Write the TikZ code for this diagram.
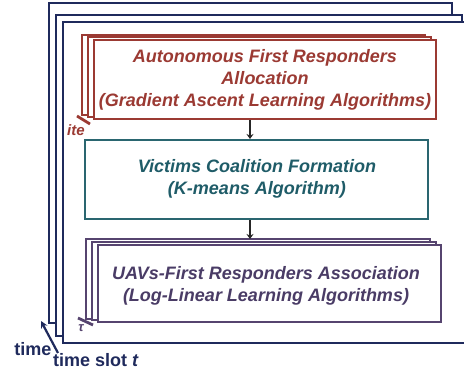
\documentclass[tikz,border=0pt]{standalone}
\usepackage{fontspec}
\setmainfont{Liberation Sans}
\usetikzlibrary{arrows.meta}
\definecolor{navy}{HTML}{1F2A5C}
\definecolor{redc}{HTML}{9B3A33}
\definecolor{tealc}{HTML}{2A6670}
\definecolor{tealt}{HTML}{1F5C68}
\definecolor{purc}{HTML}{56446F}
\definecolor{purt}{HTML}{4A3C66}
\tikzset{
  frame/.style={draw=navy, line width=2.4pt, fill=white},
  redbox/.style={draw=redc, line width=2pt, fill=white},
  tealbox/.style={draw=tealc, line width=2pt, fill=white},
  purbox/.style={draw=purc, line width=2pt, fill=white},
  boxtext/.style={font=\fontsize{18}{22}\selectfont\bfseries\itshape, align=center, inner sep=0pt},
  flow/.style={draw=black!85, line width=2pt, -{Stealth[length=5pt,width=7pt]}},
  tick/.style={line width=2.8pt, line cap=butt},
  timelbl/.style={text=navy, font=\fontsize{18}{18}\selectfont\bfseries, inner sep=0pt}
}
\begin{document}
\begin{tikzpicture}[x=1pt,y=-1pt]
\useasboundingbox (0,0) rectangle (464,374);
% time frames
\draw[frame] (49,3) rectangle (452,323);
\draw[frame] (56,15) rectangle (462,336);
\draw[frame] (63,22) rectangle (480,343);
% red stack
\draw[redbox] (82,35) rectangle (425,115);
\draw[redbox] (88,37) rectangle (431,117);
\node[redbox, minimum width=342pt, minimum height=79pt, inner sep=0pt] (alloc) at (265,79.5) {};
\node[boxtext, text=redc] (alloctext) at (265,79.5) {Autonomous First Responders\\Allocation\\(Gradient Ascent Learning Algorithms)};
\draw[redc, tick] (77,116) -- (90,124);
\node[text=redc, font=\fontsize{15}{15}\selectfont\bfseries\itshape, inner sep=0pt] (ite) at (76,130) {ite};
% teal box
\node[tealbox, minimum width=343pt, minimum height=79pt, inner sep=0pt] (coal) at (256.5,179.5) {};
\node[boxtext, text=tealt] (coaltext) at (257,179) {Victims Coalition Formation\\(K-means Algorithm)};
% purple stack
\draw[purbox] (86,239) rectangle (430,319);
\draw[purbox] (92,242) rectangle (436,320);
\node[purbox, minimum width=343pt, minimum height=77pt, inner sep=0pt] (assoc) at (269.5,283.5) {};
\node[boxtext, text=purt] (assoctext) at (266,286) {UAVs-First Responders Association\\(Log-Linear Learning Algorithms)};
\draw[purc, tick] (78,318) -- (93,325);
\node[text=purc, font=\fontsize{13}{13}\selectfont\bfseries\itshape, inner sep=0pt] (tau) at (81,328) {τ};
% arrows
\draw[flow] (alloc.south -| 250,0) -- (coal.north -| 250,0);
\draw[flow] (coal.south -| 250,0) -- (250,239);
% time labels
\node[timelbl] (time) at (33,349) {time};
\node[timelbl, anchor=west] (slot) at (53,360) {time slot \textit{t}};
\coordinate (corner) at (41,321);
\draw[navy, line width=2.2pt, -{Stealth[length=7pt,width=7pt]}] (58,353) -- (corner);
\end{tikzpicture}
\end{document}
